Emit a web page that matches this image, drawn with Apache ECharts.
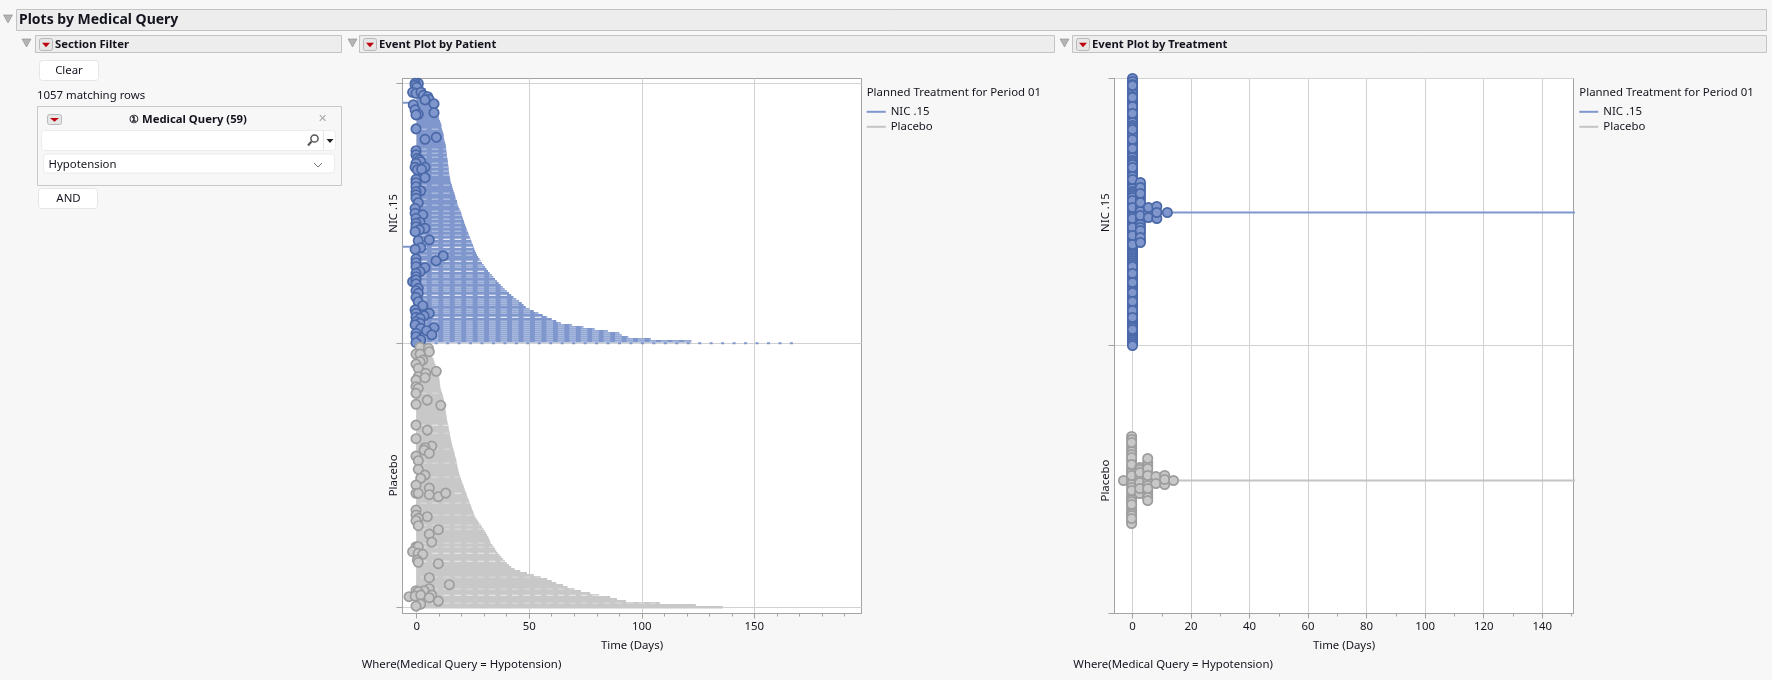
<!DOCTYPE html>
<html><head><meta charset="utf-8">
<style>html,body{margin:0;padding:0;background:#f7f7f7}#c{width:1772px;height:680px}</style>
<script src="https://cdn.jsdelivr.net/npm/echarts@6/dist/echarts.min.js"></script>
</head><body><div id="c"></div>
<script>
// ---------- data ----------
const treatments = ['NIC .15', 'Placebo'];
const legendTitle = 'Planned Treatment for Period 01';
const xName = 'Time (Days)';
const whereText = 'Where(Medical Query = Hypotension)';
const patientTicks = [0, 50, 100, 150];
const patientMinor = [10,20,30,40,60,70,80,90,110,120,130,140,160,170,180,190];
const treatTicks = [0,20,40,60,80,100,120,140];
const treatMinor = [10,30,50,70,90,110,130,150];

// last day on study, one value per patient row (rows 0..129)
const nicEnds = [2,3,3,4,4,5,5,6,6,7,
 7.5,8,8.4,8.8,9,9.2,9.5,9.8,10,10.4,
 10.7,11,11,11.2,11.5,11.8,12,12,12.2,12.4,
 12.7,12.9,13,13.1,13.2,13.3,13.4,13.5,13.7,13.8,
 13.9,14,14.1,14.2,14.3,14.4,14.5,14.7,14.9,15,
 15.3,15.6,15.8,16.1,16.4,16.7,17,17.2,17.5,17.9,
 18,18.3,18.6,19,19.4,19.8,20,20.3,20.6,21,
 21.2,21.5,21.9,22.2,22.5,22.9,23.2,23.6,24,24.3,
 24.6,25,25.3,25.6,26,26.4,26.8,27.3,27.9,28.5,
 29,29.7,30.4,31,31.7,32.4,33.3,34,34.8,35.6,
 36.4,37.3,38.2,39,40,41,42,43,44.2,45.5,
 46.7,47.5,48.5,50,52,54,56,58,60,62,
 64,69,74,79,85,90,91,94,104,122];
// rows 131..262
const placeboEnds = [2,3,4,5,5.6,6.3,7,7.5,7.8,8,
 8.4,8.8,9.2,9.6,9.7,9.8,10,10.1,10.2,10.3,
 10.4,10.5,10.7,11,11.3,11.6,11.8,12,12.1,12.2,
 12.4,12.5,12.7,12.9,13,13.2,13.3,13.4,13.6,13.8,
 14,14.2,14.3,14.5,14.7,14.8,15,15.2,15.4,15.6,
 15.8,16,16.3,16.5,16.8,17,17.2,17.5,17.7,17.8,
 18,18.2,18.4,18.6,18.8,19.1,19.4,19.7,20,20.3,
 20.7,21,21.3,21.6,22,22.3,22.5,23,23.3,23.6,
 24,24.3,24.6,25,25.3,25.6,26,26.6,27.2,27.8,
 28.4,29,29.6,30.2,30.8,31.3,31.8,32.2,32.6,33,
 33.6,34.2,34.8,35.4,36,36.8,37.6,38.4,39.2,40,
 41,42,43.5,46,49,52,55,58,60,62,
 65,67,70,73,77,81,86,89,93,108,124,136];
const nicLongestRow = [[168, 130]];
const nicEarlyStarts = [[-6.2, 9.7], [-6.2, 81.7]];
const nicSparseRows = [23,29,33,35,37,40,42,44,46,51,55,58,61,64,66,68,70,72,74,76,80,84,86,91,92,96,97,99,100,102,103,104,108,109,110,111,113,114,115,119,120,121,122,123,124,125,126,127,128,129];
const nicOpenRows = [78,82,89,94,106,117];
const placeboSparseRows = [145,155,175,183,190,197,210,216,221,223,230,232,247,253,260];
const placeboOpenRows = [171,205,235,239,256];

// events: [day, patient row]
const nicEvents = [[.7,0],[-.7,0],[-.7,1],[0,2],[-1.8,4.5],[-.3,5],[1.9,4.5],[3,6],[4.9,6.7],[5.5,8],[3.7,8.3],[7.7,10.3],[-1.5,10.8],[-.7,13.3],[7.7,14.7],[.7,15.5],[-.3,15.8],[-.3,22.8],[3.7,28],[8.7,27],[-.3,33.7],[-.3,35.8],[.3,37.5],[1.2,38.3],[1.8,39.2],[-.3,40],[-.7,42],[3.7,42],[.3,43.3],[2.2,43],[3.7,47.2],[-.3,48],[-.3,49.7],[-.3,51.7],[1.8,53.8],[-.3,54.2],[-.3,55.8],[-.3,57.5],[.7,59.7],[-.7,62.5],[-.7,65],[2.7,65.8],[-.3,67.5],[1.5,69.5],[-.3,70],[-.3,71.7],[3.7,72.5],[1.2,73.3],[-.7,74.2],[.7,78.7],[5.6,78.3],[1.8,82.2],[-.7,83],[11.8,86.3],[8.6,88.8],[-.3,87.8],[-.3,89.7],[-.3,91.7],[3.7,92.2],[1.5,94.2],[-.3,95],[-.3,96.7],[-1.8,99.2],[-.3,98.3],[-.3,100.3],[.7,102.5],[-.3,103.7],[.7,105],[-.3,107],[.7,109.2],[2.7,111.2],[-.7,113.3],[-.3,115],[5.6,115],[-.3,117],[3.3,116.3],[1.5,117.5],[-.3,119.2],[1.5,120],[-.7,120.8],[1.8,122.5],[7.7,122.2],[4.4,123.7],[-.3,125],[6.7,125.8],[-.3,126.7],[1.8,128.3],[-.3,129.7]];
const placeboEvents = [[1.5,132],[5.2,132.5],[5.6,134.2],[-.3,135.4],[1.5,135.4],[2.7,138.4],[1.5,139.2],[-.3,140.4],[.7,142.5],[8.7,144],[4,145],[.7,146.7],[3.7,147.2],[-.3,148.4],[-.3,151.7],[.7,152.5],[-.3,155],[4.7,158.4],[-.3,160.5],[10.7,161],[-.3,170.9],[4.7,173.4],[-.3,177.7],[6.7,181.4],[3.7,182.2],[3.3,183.4],[5.6,185],[-.3,186.4],[.7,188.7],[.7,193],[3.7,195.9],[1.8,197.5],[-.3,200.9],[5.6,202.4],[-.3,205],[.7,205],[5.6,205.7],[9.6,206.7],[12.9,204.9],[-.3,213.4],[-.3,215.9],[4.7,216.7],[.7,217.5],[-.3,218.7],[.7,221.2],[9.6,223.2],[5.6,225.4],[6.7,229.4],[-.3,231.7],[.7,231.7],[-1.8,234.2],[.7,235],[2.7,235.5],[.3,238.4],[.7,239.5],[9.6,240.2],[5.6,247.2],[14.5,250.7],[-.3,253.7],[5.6,252.7],[3.3,253.7],[.7,254.2],[-3.4,256.7],[-.7,256.4],[1.8,255.9],[6.7,255.9],[5.6,257.2],[9.6,258.9],[1.8,260.4],[-.3,261.4]];

// by-treatment swarm: [day, stacked positions around the treatment's line]
const nicSwarm = [
 [0,[134,131,128,125,122,119,116,113,110,108,104,102,97,95,92,90,87,85,81,79,76,71,69,67,62,60,58,55,52,50,48,43,41,38,36,30,28,26,24,21,19,17,15,9,7,3,1,-2,-4,-8,-10,-12,-13,-17,-19,-21,-25,-27,-29,-34,-36,-38,-40,-42,-44,-46,-48,-50,-52,-56,-58,-63,-65,-67,-72,-74,-76,-78,-82,-84,-86,-91,-93,-95,-100,-102,-107,-109,-111,-113,-115,-119,-121,-123,-125,-127,-129,-131]],
 [0,[127,115,106,99,83,73,64,45,33,12,5,-6,-15,-23,-32,-54,-61,-70,-80,-89,-98,-105,-117,-133]],
 [2.7,[27,22,16,13,7,4,1,-6,-9,-12,-15,-21,-28]],
 [2.7,[30,25,19,10,-3,-18,-25,-30]],
 [5.45,[0,5,-5]],
 [8.3,[6,-6,0]],
 [11.9,[0]]
];
const placeboSwarm = [
 [-3.07,[0]],
 [-.3,[44,41,35,32,29,26,20,13,10,8,2,-1,-4,-7,-13,-16,-19,-21,-27,-30,-33,-35,-41,-43]],
 [-.3,[38,23,16,5,-10,-24,-38]],
 [2.5,[13,11,5,-5,-11,-13]],
 [2.5,[8,-2,-8]],
 [5.2,[18,15,8,2,-2,-5,-11,-14]],
 [5.2,[22,12,5,-8,-17,-20]],
 [8,[4,-3]],
 [11,[5,-4,1]],
 [14,[0]]
];

// ---------- styles ----------
const FONT = '"Noto Sans","Open Sans",sans-serif';
const FS = 11.4;
const TXT = '#14141e';
const BLUE = '#7f97cc', BLUE_DK = '#4a68a8', BLUE_LT = '#a9b9de';
const GREY = '#c8c8c8', GREY_DK = '#9d9d9d', GREY_LT = '#dcdcdc';
const AXIS = '#a3a3a3', GRID = '#d2d2d2';
const DASH_PERIOD = 11.46;

const nicCenter = 401, placeboCenter = 133, swarmDivide = 268, swarmTop = 535;
function flatten(sw, c) { const o = []; sw.forEach(([d, list]) => list.forEach(v => o.push([d, c + v]))); return o; }
function rowsOf(ends, start) { return ends.map((e, i) => [e, start + i]); }
const nicRows = rowsOf(nicEnds, 0), placeboRows = rowsOf(placeboEnds, 131);
const pick = (rows, ids, start) => ids.map(i => rows[i - start]);

function rowSeries(name, data, color, width, dash, offset) {
  return {
    type: 'custom', name, xAxisIndex: 0, yAxisIndex: 0, clip: true, silent: true, data,
    itemStyle: { color },
    encode: { x: 0, y: 1 }, z: 2,
    renderItem(p, api) {
      const x = api.value(0), r = api.value(1);
      const a = api.coord([x < 0 ? x : 0, r]), b = api.coord([x < 0 ? 0 : x, r]);
      const style = { stroke: color, lineWidth: width, fill: null };
      if (dash) { style.lineDash = dash; style.lineDashOffset = offset || 0; }
      return { type: 'line', shape: { x1: a[0], y1: a[1], x2: b[0], y2: b[1] }, style, silent: true };
    }
  };
}
function dots(name, data, xi, yi, fill, edge) {
  return { type: 'scatter', name, xAxisIndex: xi, yAxisIndex: yi, data, clip: true, silent: true, z: 4,
    symbolSize: 9.4, animation: false, itemStyle: { color: fill, borderColor: edge, borderWidth: 1.7, opacity: 1 } };
}

const axText = { color: TXT, fontFamily: FONT, fontSize: FS };
function valueX(grid, min, max, ticks) {
  return { type: 'value', gridIndex: grid, min, max, position: 'bottom',
    name: xName, nameLocation: 'middle', nameGap: 27, nameTextStyle: axText,
    axisLine: { show: true, onZero: false, lineStyle: { color: AXIS, width: 1 } },
    axisTick: { show: true, length: 5, lineStyle: { color: AXIS }, customValues: ticks },
    axisLabel: Object.assign({ customValues: ticks, margin: 8, formatter: v => String(v), hideOverlap: false, showMinLabel: true, showMaxLabel: true }, axText),
    splitLine: { show: true, lineStyle: { color: GRID, width: 1 } } };
}
function minorX(grid, min, max, ticks) {
  return { type: 'value', gridIndex: grid, min, max, position: 'bottom',
    axisLine: { show: false, onZero: false },
    axisTick: { show: true, length: 3, lineStyle: { color: AXIS }, customValues: ticks },
    axisLabel: { show: false }, splitLine: { show: false } };
}
function valueY(grid, min, max, inverse, ticks, labelAt, names) {
  return { type: 'value', gridIndex: grid, min, max, inverse,
    axisLine: { show: true, onZero: false, lineStyle: { color: AXIS, width: 1 } },
    axisTick: { show: true, length: 6, lineStyle: { color: AXIS }, customValues: ticks },
    axisLabel: Object.assign({ customValues: labelAt, rotate: 90, margin: 3, formatter: v => names[labelAt.indexOf(v)] || '' }, axText),
    splitLine: { show: true, lineStyle: { color: GRID, width: 1 } } };
}

// ---------- report chrome ----------
const g = [];
function rect(x, y, w, h, fill, stroke, r) { g.push({ type: 'rect', shape: { x, y, width: w, height: h, r: r || 0 }, style: { fill, stroke: stroke || null, lineWidth: 1 }, silent: true }); }
function text(x, y, t, opt) { opt = opt || {}; g.push({ type: 'text', silent: true, style: { x, y: y + 1, text: t, fill: opt.fill || TXT, font: (opt.bold ? 'bold ' : '') + (opt.size || FS) + 'px ' + FONT, textAlign: opt.align || 'left', textVerticalAlign: 'middle' } }); }
function tri(x, y, w, h, fill) { g.push({ type: 'polygon', silent: true, shape: { points: [[x, y], [x + w, y], [x + w / 2, y + h]] }, style: { fill, stroke: '#8c8c8c', lineWidth: 0.6 } }); }
function menu(x, y, w, h) {
  rect(x, y, w, h, '#e6e6e6', '#b9b9b9', 2);
  g.push({ type: 'polygon', silent: true, shape: { points: [[x + 2.5, y + h * .35], [x + w - 2.5, y + h * .35], [x + w / 2, y + h * .72]] }, style: { fill: '#c00010' } });
}
function section(tx, bx, w, btn, label) {
  tri(tx, 39, 9, 8, '#b4b4b4');
  rect(bx + .5, 35.5, w, 17, '#ededed', '#c3c3c3');
  menu(btn + .5, 38.5, 13, 12);
  text(btn + 16, 43.5, label, { bold: true, size: 11.3 });
}
tri(3.5, 15, 9, 8, '#b4b4b4');
rect(16.5, 9.5, 1750, 21, '#ededed', '#c3c3c3');
text(19, 19.5, 'Plots by Medical Query', { bold: true, size: 14 });
section(22, 35, 306, 39, 'Section Filter');
section(348, 359, 695, 363, 'Event Plot by Patient');
section(1060, 1072, 694, 1076, 'Event Plot by Treatment');
rect(39.5, 60.5, 59, 20, '#ffffff', '#e6e6e6', 3);
text(69, 70, 'Clear', { align: 'center' });
text(37, 94.5, '1057 matching rows');
rect(37.5, 106.5, 304, 79, '#f7f7f7', '#c8c8c8');
menu(47.5, 114.5, 14, 10);
text(188, 119, '\u2460 Medical Query (59)', { bold: true, align: 'center', size: 11.3 });
text(322.5, 118, '\u2715', { fill: '#a8a8a8', align: 'center', size: 11 });
rect(41.5, 130.5, 294, 20, '#ffffff', '#ececec', 3);
g.push({ type: 'circle', silent: true, shape: { cx: 314.5, cy: 138.5, r: 3.6 }, style: { fill: null, stroke: '#555', lineWidth: 1.5 } });
g.push({ type: 'line', silent: true, shape: { x1: 311.5, y1: 141.5, x2: 308, y2: 145.5 }, style: { stroke: '#555', lineWidth: 2 } });
g.push({ type: 'line', silent: true, shape: { x1: 323.5, y1: 131, x2: 323.5, y2: 150 }, style: { stroke: '#e6e6e6', lineWidth: 1 } });
g.push({ type: 'polygon', silent: true, shape: { points: [[326.5, 139], [333.5, 139], [330, 143]] }, style: { fill: '#222' } });
rect(43.5, 154, 291, 19, '#ffffff', '#ececec', 3);
text(48.5, 163.5, 'Hypotension');
g.push({ type: 'polyline', silent: true, shape: { points: [[314, 163], [318, 167], [322, 163]] }, style: { fill: null, stroke: '#777', lineWidth: 1 } });
rect(38.5, 188.5, 59, 20, '#ffffff', '#e6e6e6', 3);
text(68.5, 198, 'AND', { align: 'center' });
text(866.7, 92.2, legendTitle);
text(1579.3, 92.2, legendTitle);
text(361.7, 663.5, whereText);
text(1073.3, 663.5, whereText);

// ---------- chart ----------
const legendData = [
  { name: treatments[0], itemStyle: { color: BLUE, borderWidth: 0 } },
  { name: treatments[1], itemStyle: { color: '#c4c4c4', borderWidth: 0 } }
];
function legendAt(left) {
  return { left, top: 106.3, orient: 'vertical', padding: 0, itemWidth: 19, itemHeight: 2, itemGap: 4, icon: 'rect',
    selectedMode: false, data: legendData, textStyle: axText };
}
const chart = echarts.init(document.getElementById('c'), null, { renderer: 'canvas' });
chart.setOption({
  animation: false,
  backgroundColor: '#f7f7f7',
  tooltip: { show: false },
  graphic: g,
  legend: [legendAt(866.7), legendAt(1579.3)],
  grid: [
    { left: 402.5, top: 78.5, width: 459, height: 535, show: true, backgroundColor: '#fff', borderColor: AXIS, borderWidth: 1 },
    { left: 1114.5, top: 78.5, width: 459, height: 535, show: true, backgroundColor: '#fff', borderColor: AXIS, borderWidth: 1 }
  ],
  xAxis: [
    valueX(0, -6.3, 197.6, patientTicks), valueX(1, -6.15, 150.7, treatTicks),
    minorX(0, -6.3, 197.6, patientMinor), minorX(1, -6.15, 150.7, treatMinor)
  ],
  yAxis: [
    valueY(0, -2.4, 265.1, true, [0, 130, 262], [65, 196], treatments),
    valueY(1, 0, swarmTop, false, [0, swarmDivide, swarmTop], [nicCenter, placeboCenter], treatments)
  ],
  series: [
    rowSeries(treatments[0], nicLongestRow, BLUE, 2, [3, DASH_PERIOD - 3], 4.96),
    rowSeries(treatments[0], nicRows, BLUE, 2.4),
    rowSeries(treatments[0], nicEarlyStarts, BLUE, 2),
    rowSeries(treatments[0], pick(nicRows, nicSparseRows, 0), BLUE_LT, 1.5, [6.6, DASH_PERIOD - 6.6], 7.86),
    rowSeries(treatments[0], pick(nicRows, nicOpenRows, 0), '#ffffff', 1.1, [6.6, DASH_PERIOD - 6.6], 7.86),
    rowSeries(treatments[1], placeboRows, GREY, 2.4),
    rowSeries(treatments[1], pick(placeboRows, placeboSparseRows, 131), '#d5d5d5', 1.5, [6.6, DASH_PERIOD - 6.6], 7.86),
    rowSeries(treatments[1], pick(placeboRows, placeboOpenRows, 131), '#ececec', 1.1, [6.6, DASH_PERIOD - 6.6], 7.86),
    dots(treatments[0], nicEvents, 0, 0, BLUE, BLUE_DK),
    dots(treatments[1], placeboEvents, 0, 0, GREY, GREY_DK),
    { type: 'line', name: treatments[0], xAxisIndex: 1, yAxisIndex: 1, symbol: 'none', clip: true, silent: true, z: 2,
      data: [[0, nicCenter], [167, nicCenter]], lineStyle: { color: BLUE, width: 2 }, itemStyle: { color: BLUE } },
    { type: 'line', name: treatments[1], xAxisIndex: 1, yAxisIndex: 1, symbol: 'none', clip: true, silent: true, z: 2,
      data: [[0, placeboCenter], [190, placeboCenter]], lineStyle: { color: '#c4c4c4', width: 2 }, itemStyle: { color: '#c4c4c4' } },
    dots(treatments[0], flatten(nicSwarm, nicCenter), 1, 1, BLUE, BLUE_DK),
    dots(treatments[1], flatten(placeboSwarm, placeboCenter), 1, 1, GREY, GREY_DK)
  ]
});
</script></body></html>
